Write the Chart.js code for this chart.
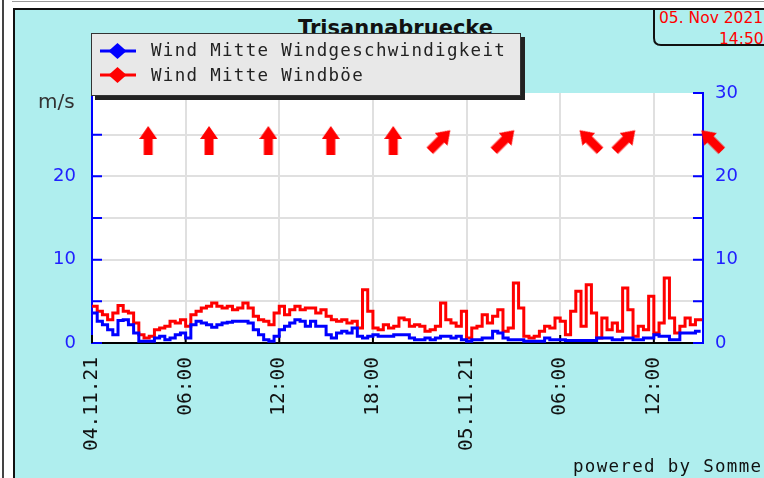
<!DOCTYPE html>
<html>
<head>
<meta charset="utf-8">
<title>Trisannabruecke</title>
<script src="https://cdn.jsdelivr.net/npm/chart.js@4.4.1/dist/chart.umd.min.js"></script>
<style>
  html, body { margin:0; padding:0; background:#fff; overflow:hidden; }
  #page { position:relative; width:764px; height:478px; overflow:hidden; font-family:"DejaVu Sans", sans-serif; }
  .abs { position:absolute; white-space:nowrap; }
  #edge { left:2px; top:0; width:2px; height:478px; background:#444; }
  #topline { left:12px; top:1px; width:752px; height:1px; background:#9a9a9a; }
  #frame { left:13px; top:8px; width:780px; height:500px; background:#afeeee; border-left:2px solid #111; border-top:2px solid #111; }
  #datebox { left:652px; top:8px; }
  #date1 { left:659px; top:8px; font:15.5px/20px "DejaVu Sans"; color:#f00; }
  #date2 { left:719px; top:29px; font:15.5px/20px "DejaVu Sans"; color:#f00; }
  #title { left:0; top:18px; width:791px; text-align:center; font:bold 21px/20px "DejaVu Sans"; color:#111; }
  #chart { left:0; top:0; }
  #legend { left:91px; top:33px; width:428px; height:61px; background:#e8e8e8; border:1px solid #333; box-shadow:4px 4px 0 #222; }
  .row { position:absolute; left:59px; font:17.5px/20px "DejaVu Sans Mono", monospace; letter-spacing:1.3px; color:#222; white-space:nowrap; }
  .mark { position:absolute; left:7px; }
  #unit { left:38px; top:91px; font:20px/20px "DejaVu Sans"; color:#333; }
  #powered { left:573px; top:456px; font:17.5px/20px "DejaVu Sans Mono", monospace; letter-spacing:1.3px; color:#111; }
</style>
</head>
<body>
<div id="page">
<div class="abs" id="edge"></div>
<div class="abs" id="topline"></div>
<div class="abs" id="frame"></div>
<svg class="abs" id="datebox" width="112" height="40"><path d="M2 0 V30 Q2 37 9 37 H112" fill="none" stroke="#111" stroke-width="2"/></svg>
<div class="abs" id="date1">05. Nov 2021</div>
<div class="abs" id="date2">14:50</div>
<div class="abs" id="title">Trisannabruecke</div>
<canvas class="abs" id="chart" width="764" height="478"></canvas>
<div class="abs" id="unit">m/s</div>
<div class="abs" id="legend">
  <svg class="mark" style="top:7px" width="38" height="20"><line x1="1" y1="10" x2="37" y2="10" stroke="#0000ff" stroke-width="3"/><polygon points="9.5,10 18.5,2 27.5,10 18.5,18" fill="#0000ff"/></svg>
  <div class="row" style="top:6px">Wind Mitte Windgeschwindigkeit</div>
  <svg class="mark" style="top:31px" width="38" height="20"><line x1="1" y1="10" x2="37" y2="10" stroke="#ff0000" stroke-width="3"/><polygon points="9.5,10 18.5,2 27.5,10 18.5,18" fill="#ff0000"/></svg>
  <div class="row" style="top:31px">Wind Mitte Windböe</div>
</div>
<div class="abs" id="powered">powered by Sommer</div>
</div>
<script>
// -------- data (20 min samples from 04.11.21 00:00) --------
const stepHours = 1 / 3;
const xTickHours = [0, 6, 12, 18, 24, 30, 36];
const xTickLabels = ["04.11.21", "06:00", "12:00", "18:00", "05.11.21", "06:00", "12:00"];

const gust = [
  4.4,3.8,3.4,2.8,3.6,4.5,3.8,3.6,2.4,1.0,0.6,0.8,1.6,1.8,2.0,2.6,2.4,2.8,2.0,3.4,3.8,4.2,4.4,4.8,4.4,4.2,4.4,4.0,4.2,
  4.8,4.2,3.2,2.8,2.6,2.2,3.6,4.4,3.4,4.0,4.4,4.0,4.2,4.2,3.6,4.0,3.2,2.8,2.6,2.8,2.4,2.6,1.8,6.4,3.8,1.8,1.6,2.2,1.8,2.0,
  3.0,2.8,2.0,2.2,2.0,1.4,1.6,2.0,4.8,2.8,2.4,2.0,3.8,0.6,1.8,2.0,3.4,2.4,3.2,4.0,1.4,1.8,7.2,4.2,0.8,0.6,0.8,1.4,2.0,
  1.8,3.0,2.6,1.0,3.8,6.2,2.0,7.0,3.6,0.6,3.0,1.6,2.4,1.4,6.6,4.0,0.8,2.0,1.6,5.6,1.2,2.4,7.8,3.0,1.2,2.0,3.0,2.2,2.8,2.6
];
const speed = [
  3.6,2.6,2.2,1.6,1.0,2.7,2.8,2.2,1.2,0.2,0.2,0.2,0.6,0.8,0.4,0.6,1.0,1.2,0.6,2.2,2.6,2.4,2.2,1.9,2.2,2.4,2.5,2.6,2.6,
  2.6,2.4,1.6,1.0,0.4,0.2,0.8,1.6,2.0,2.4,2.8,2.6,2.0,2.6,2.0,2.0,1.0,0.6,1.2,1.4,1.2,1.8,0.8,0.6,0.8,1.0,0.8,0.8,0.8,1.0,
  1.0,1.0,0.6,0.4,0.4,0.6,0.4,0.6,0.8,0.8,0.6,0.8,0.4,0.2,0.4,0.4,0.6,0.6,1.4,1.2,0.6,0.4,0.4,0.4,0.2,0.2,0.2,0.2,0.6,
  0.4,0.4,0.4,0.3,0.3,0.3,0.3,0.3,0.3,0.6,0.6,0.6,0.4,0.4,0.6,0.6,0.4,0.4,0.6,0.6,1.0,0.8,0.8,0.4,0.4,1.2,1.2,1.2,1.4,1.4
];
// wind direction arrows (hour, degrees clockwise from north-up)
const arrowHours = [3.6, 7.5, 11.3, 15.3, 19.3, 22.3, 26.4, 31.9, 34.15, 39.7];
const arrowDirs  = [0, 0, 0, 0, 0, 45, 45, 315, 45, 315];
const arrowLevel = 24.3;

// -------- arrow marker --------
function makeArrow() {
  const c = document.createElement("canvas");
  c.width = 18; c.height = 29;
  const g = c.getContext("2d");
  g.fillStyle = "#ff0000";
  g.beginPath();
  g.moveTo(9, 0); g.lineTo(18, 13); g.lineTo(13.5, 13); g.lineTo(13.5, 29);
  g.lineTo(4.5, 29); g.lineTo(4.5, 13); g.lineTo(0, 13);
  g.closePath(); g.fill();
  return c;
}

const toPoints = vals => vals.map((v, i) => ({ x: i * stepHours, y: v }));

// white plot area
const plotBg = {
  id: "plotBg",
  beforeDraw(chart) {
    const { ctx, chartArea: a } = chart;
    ctx.save();
    ctx.fillStyle = "#fff";
    ctx.fillRect(a.left, a.top, a.right - a.left, a.bottom - a.top);
    ctx.restore();
  }
};

// short tick marks pointing into the plot
const innerTicks = {
  id: "innerTicks",
  beforeDatasetsDraw(chart) {
    const { ctx, chartArea: a, scales: { x, y } } = chart;
    ctx.save();
    ctx.lineWidth = 2;
    ctx.strokeStyle = "#0000ff";
    y.ticks.forEach(t => {
      const py = y.getPixelForValue(t.value);
      ctx.beginPath();
      ctx.moveTo(a.left, py); ctx.lineTo(a.left + 10, py);
      ctx.moveTo(a.right, py); ctx.lineTo(a.right - 10, py);
      ctx.stroke();
    });
    ctx.strokeStyle = "#000";
    xTickHours.forEach(h => {
      const px = x.getPixelForValue(h);
      ctx.beginPath();
      ctx.moveTo(px, a.bottom); ctx.lineTo(px, a.bottom - 8);
      ctx.stroke();
    });
    ctx.restore();
  }
};

const clear = "rgba(0,0,0,0)";
const tickFont = { family: "DejaVu Sans", size: 18 };

new Chart(document.getElementById("chart"), {
  type: "line",
  data: {
    datasets: [
      { label: "Wind Mitte Windgeschwindigkeit", data: toPoints(speed), borderColor: "#0000ff",
        borderWidth: 3, pointRadius: 0, stepped: true, yAxisID: "y" },
      { label: "Wind Mitte Windböe", data: toPoints(gust), borderColor: "#ff0000",
        borderWidth: 3, pointRadius: 0, stepped: true, yAxisID: "y" },
      { label: "Windrichtung", data: arrowHours.map(h => ({ x: h, y: arrowLevel })),
        showLine: false, pointStyle: makeArrow(), pointRotation: arrowDirs,
        pointRadius: 16, pointBorderWidth: 0, clip: false, yAxisID: "y" }
    ]
  },
  options: {
    responsive: false,
    animation: false,
    events: [],
    layout: { padding: { left: 0, top: 93, right: 21, bottom: 25 } },
    plugins: { legend: { display: false }, tooltip: { enabled: false }, title: { display: false } },
    scales: {
      x: {
        type: "linear", min: 0, max: 39.15,
        afterBuildTicks: s => { s.ticks = xTickHours.map(v => ({ value: v })); },
        afterFit: s => { s.height = 110; },
        ticks: {
          minRotation: 90, maxRotation: 90, padding: 14, color: "#111",
          font: { family: "DejaVu Sans Mono", size: 19.5 },
          callback: v => xTickLabels[xTickHours.indexOf(v)]
        },
        grid: { drawTicks: false, lineWidth: 2, color: c => (c.tick && c.tick.value === 0) ? clear : "#e0e0e0" },
        border: { color: "#000", width: 2 }
      },
      y: {
        position: "left", min: 0, max: 30,
        afterFit: s => { s.width = 92; },
        ticks: { stepSize: 5, padding: 16, color: "#2020ff", font: tickFont,
                 callback: v => (v % 10 === 0 && v < 30) ? v : "" },
        grid: { drawTicks: false, lineWidth: 2,
                color: c => (c.tick && (c.tick.value === 0 || c.tick.value === 30)) ? clear : "#e0e0e0" },
        border: { color: "#0000ff", width: 2 }
      },
      y2: {
        position: "right", min: 0, max: 30,
        afterFit: s => { s.width = 40; },
        ticks: { stepSize: 5, padding: 12, color: "#2020ff", font: tickFont,
                 callback: v => (v % 10 === 0) ? v : "" },
        grid: { drawTicks: false, color: clear },
        border: { color: "#0000ff", width: 2 }
      }
    }
  },
  plugins: [plotBg, innerTicks]
});
</script>
</body>
</html>
